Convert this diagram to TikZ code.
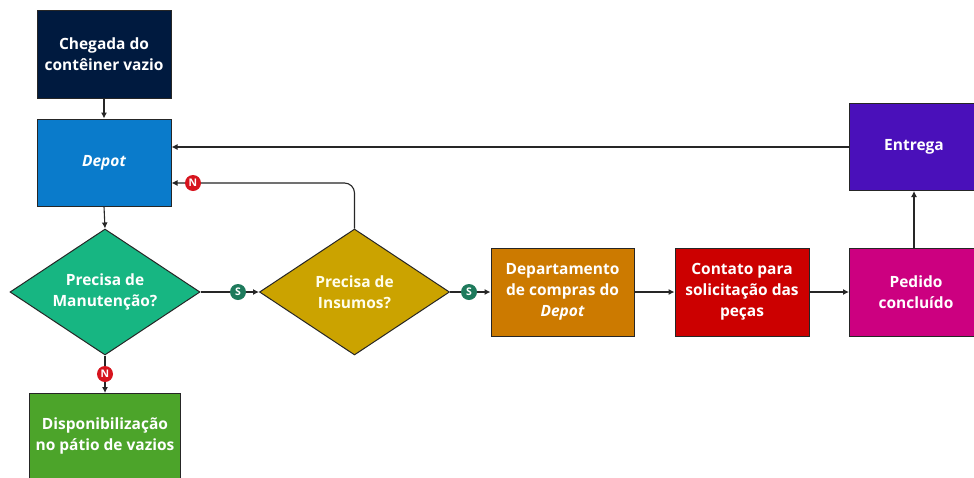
\documentclass[tikz,border=0pt]{standalone}
\usepackage{fontspec}
\setmainfont{Open Sans}
\usetikzlibrary{shapes.geometric,arrows.meta}
\definecolor{cnavy}{HTML}{001A3F}
\definecolor{cblue}{HTML}{0A7BCB}
\definecolor{cgreenD}{HTML}{17B682}
\definecolor{cgold}{HTML}{CBA300}
\definecolor{corange}{HTML}{CC7A00}
\definecolor{cred}{HTML}{CC0000}
\definecolor{cmag}{HTML}{CC0080}
\definecolor{cpurple}{HTML}{4A10BA}
\definecolor{cgreenB}{HTML}{4CA42A}
\definecolor{cbadgeN}{HTML}{D7141E}
\definecolor{cbadgeS}{HTML}{1E7A5C}
\tikzset{
  lbl/.style={text=white, font=\bfseries\fontsize{15.5}{21}\selectfont, align=center},
  box/.style={lbl, rectangle, draw=black!85, line width=1pt, inner sep=0pt},
  dia/.style={lbl, diamond, draw=black!85, line width=1pt, inner sep=0pt, minimum width=190pt, minimum height=126pt, aspect=1.5},
  badge/.style={circle, inner sep=0pt, minimum size=16pt, text=white, font=\bfseries\fontsize{10.5}{10.5}\selectfont},
  conn/.style={line width=1.1pt, draw=black!85, -{Latex[length=6pt,width=6pt]}},
}
\begin{document}
\begin{tikzpicture}[x=1pt,y=-1pt]
\useasboundingbox (0,0) rectangle (974,477);
\fill[white] (0,0) rectangle (974,477);
% nodes
\node[box, fill=cnavy, minimum width=134pt, minimum height=88pt] (cheg) at (104,54) {Chegada do\\contêiner vazio};
\node[box, fill=cblue, minimum width=134pt, minimum height=87pt] (depot) at (104,162.5) {\itshape Depot};
\node[dia, fill=cgreenD] (man) at (105,292) {Precisa de\\Manutenção?};
\node[dia, fill=cgold, text={white!92!yellow}] (ins) at (354.5,292) {Precisa de\\Insumos?};
\node[box, fill=corange, minimum width=143pt, minimum height=88pt] (dep) at (562.5,292) {Departamento\\de compras do\\\itshape Depot};
\node[box, fill=cred, minimum width=134pt, minimum height=88pt] (cont) at (742,292) {Contato para\\solicitação das\\peças};
\node[box, fill=cmag, minimum width=134pt, minimum height=88pt, anchor=west] (ped) at (849,292) {};
\node[box, fill=cpurple, minimum width=134pt, minimum height=87pt, anchor=west] (ent) at (849,147) {};
\node[lbl] (pedt) at (916,292) {Pedido\\concluído};
\node[lbl] (entt) at (914,147) {Entrega};
\node[box, fill=cgreenB, minimum width=151pt, minimum height=100pt, anchor=north] (disp) at (105,393) {};
\node[lbl] (dispt) at (105,436) {Disponibilização\\no pátio de vazios};
% connectors
\draw[conn] (cheg.south) -- (depot.north);
\draw[conn] (depot.south) -- (man.north);
\draw[conn] (man.east) -- (ins.west);
\draw[conn] (ins.east) -- (dep.west);
\draw[conn] (dep.east) -- (cont.west);
\draw[conn] (cont.east) -- (ped.west);
\draw[conn] (ped.north -| entt) -- (ent.south -| entt);
\draw[conn] (ent.west) -- (depot.east |- ent.west);
\draw[conn, rounded corners=10pt] (ins.north) -- (354.5,183) -- (depot.east |- 0,183);
\draw[conn] (man.south) -- (disp.north);
% badges
\node[badge, fill=cbadgeS] (s1) at (238,292) {S};
\node[badge, fill=cbadgeS] (s2) at (469,292) {S};
\node[badge, fill=cbadgeN] (n1) at (193,183) {N};
\node[badge, fill=cbadgeN] (n2) at (105,374) {N};
\end{tikzpicture}
\end{document}
